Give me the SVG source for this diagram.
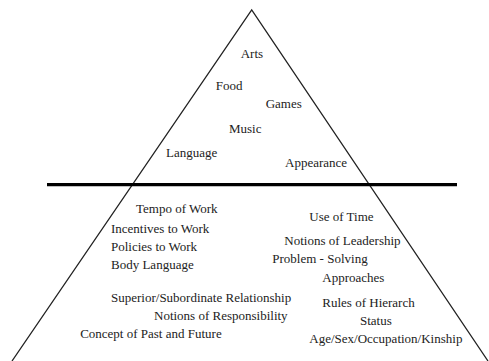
<svg xmlns="http://www.w3.org/2000/svg" width="489" height="361" viewBox="0 0 489 361">
  <style>
    .lbl { font-family: "Liberation Serif", "Times New Roman", serif; font-size: 13px; fill: #222; }
    .edge { stroke: #222; stroke-width: 1.3; fill: none; }
    .divider { stroke: #000; stroke-width: 3.2; }
  </style>
  <rect width="489" height="361" fill="#fff"/>
  <g id="connectors">
    <path class="edge" d="M12 361 L251.7 10 L488 361"/>
    <line class="divider" x1="47" y1="184.7" x2="457" y2="184.7"/>
  </g>
  <g id="visible-culture">
    <text class="lbl" x="240.7" y="58">Arts</text>
    <text class="lbl" x="215.7" y="90">Food</text>
    <text class="lbl" x="265.7" y="108">Games</text>
    <text class="lbl" x="229" y="133">Music</text>
    <text class="lbl" x="166" y="157">Language</text>
    <text class="lbl" x="285" y="166.7">Appearance</text>
  </g>
  <g id="hidden-culture-left">
    <text class="lbl" x="136" y="213.3">Tempo of Work</text>
    <text class="lbl" x="111" y="232.7">Incentives to Work</text>
    <text class="lbl" x="111" y="251">Policies to Work</text>
    <text class="lbl" x="111" y="269.3">Body Language</text>
    <text class="lbl" x="111" y="301.7">Superior/Subordinate Relationship</text>
    <text class="lbl" x="154" y="320">Notions of Responsibility</text>
    <text class="lbl" x="221.7" y="338.3" text-anchor="end">Concept of Past and Future</text>
  </g>
  <g id="hidden-culture-right">
    <text class="lbl" x="309.3" y="220.7">Use of Time</text>
    <text class="lbl" x="284.3" y="245">Notions of Leadership</text>
    <text class="lbl" x="272.3" y="263.3">Problem - Solving</text>
    <text class="lbl" x="322.3" y="282.3">Approaches</text>
    <text class="lbl" x="322.3" y="306.7">Rules of Hierarch</text>
    <text class="lbl" x="360" y="325">Status</text>
    <text class="lbl" x="309.3" y="343.3">Age/Sex/Occupation/Kinship</text>
  </g>
</svg>
